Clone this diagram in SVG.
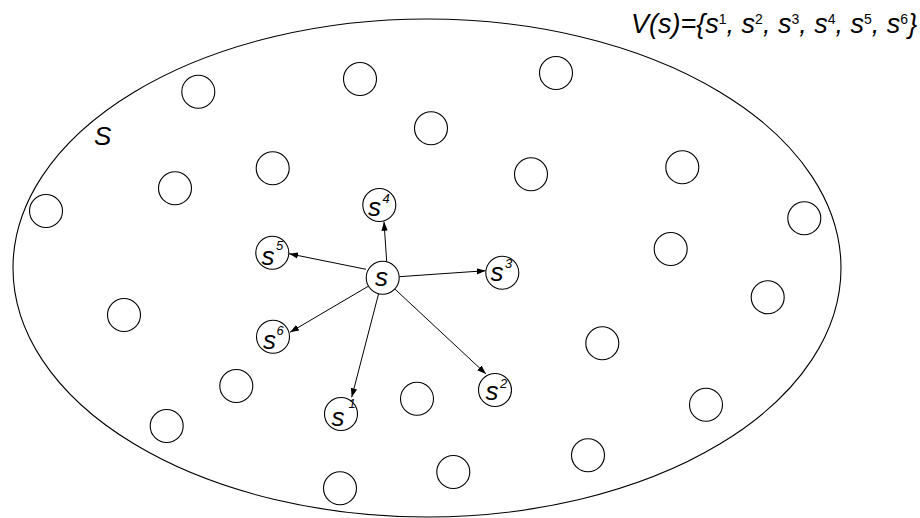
<svg xmlns="http://www.w3.org/2000/svg" width="920" height="518" viewBox="0 0 920 518">
  <style>
    .set { fill: none; stroke: #000; stroke-width: 1.1; }
    .node { fill: #fff; stroke: #000; stroke-width: 1.1; }
    .edge { fill: none; stroke: #000; stroke-width: 1; marker-end: url(#arrow); }
    .lbl { font-family: "Liberation Sans", Arial, sans-serif; font-style: italic; fill: #000; }
    .s { font-size: 26px; }
    .sup { font-size: 13px; }
    .title { font-size: 27px; }
    .title .sup { font-size: 14px; font-style: normal; }
  </style>
  <defs>
    <marker id="arrow" markerUnits="userSpaceOnUse" markerWidth="10" markerHeight="8" refX="9" refY="4" orient="auto">
      <path d="M0,0.8 L9,4 L0,7.2 z" fill="#000"/>
    </marker>
  </defs>

  <rect width="920" height="518" fill="#fff"/>

  <!-- the set S -->
  <g id="set-S">
    <ellipse class="set" cx="427" cy="268" rx="414" ry="249"/>
    <text class="lbl s" x="94" y="145">S</text>
  </g>

  <!-- neighbourhood definition -->
  <g id="definition">
    <text class="lbl title" x="631" y="32.5">V(s)={s<tspan class="sup" dy="-9">1</tspan><tspan dy="9">, s</tspan><tspan class="sup" dy="-9">2</tspan><tspan dy="9">, s</tspan><tspan class="sup" dy="-9">3</tspan><tspan dy="9">, s</tspan><tspan class="sup" dy="-9">4</tspan><tspan dy="9">, s</tspan><tspan class="sup" dy="-9">5</tspan><tspan dy="9">, s</tspan><tspan class="sup" dy="-9">6</tspan><tspan dy="9">}</tspan></text>
  </g>

  <!-- unlabeled states -->
  <g id="states">
    <circle class="node" cx="198.3" cy="91.7" r="16.5"/>
    <circle class="node" cx="360" cy="79" r="16.5"/>
    <circle class="node" cx="556" cy="73" r="16.5"/>
    <circle class="node" cx="431" cy="128.3" r="16.5"/>
    <circle class="node" cx="272.7" cy="168.3" r="16.5"/>
    <circle class="node" cx="175" cy="188.3" r="16.5"/>
    <circle class="node" cx="46" cy="211" r="16.5"/>
    <circle class="node" cx="531" cy="174.3" r="16.5"/>
    <circle class="node" cx="682.3" cy="167.3" r="16.5"/>
    <circle class="node" cx="804.3" cy="218.3" r="16.5"/>
    <circle class="node" cx="670.7" cy="249" r="16.5"/>
    <circle class="node" cx="767.7" cy="297.3" r="16.5"/>
    <circle class="node" cx="124" cy="315" r="16.5"/>
    <circle class="node" cx="602.3" cy="343.3" r="16.5"/>
    <circle class="node" cx="236.3" cy="386" r="16.5"/>
    <circle class="node" cx="417" cy="398.7" r="16.5"/>
    <circle class="node" cx="706" cy="404.7" r="16.5"/>
    <circle class="node" cx="166.7" cy="426" r="16.5"/>
    <circle class="node" cx="588" cy="455.3" r="16.5"/>
    <circle class="node" cx="453.3" cy="472" r="16.5"/>
    <circle class="node" cx="340" cy="488.3" r="16.5"/>
  </g>

  <!-- edges from s to its neighbours -->
  <g id="edges">
    <line class="edge" x1="386.7" y1="261.7" x2="384" y2="221.7"/>
    <line class="edge" x1="366" y1="269.3" x2="289" y2="253.7"/>
    <line class="edge" x1="399.3" y1="276.7" x2="485.7" y2="270.7"/>
    <line class="edge" x1="368.5" y1="286.1" x2="290" y2="332.3"/>
    <line class="edge" x1="378.6" y1="293.7" x2="351.7" y2="397.3"/>
    <line class="edge" x1="394.8" y1="289" x2="486" y2="374"/>
  </g>

  <g id="s">
    <circle class="node" cx="382.7" cy="277.7" r="16.5"/>
    <text class="lbl s" x="375" y="285.5">s</text>
  </g>
  <g id="s1">
    <circle class="node" cx="341" cy="414" r="16.5"/>
    <text class="lbl s" x="331.5" y="425.5">s</text>
    <text class="lbl sup" x="348.5" y="408">1</text>
  </g>
  <g id="s2">
    <circle class="node" cx="495" cy="390" r="16.5"/>
    <text class="lbl s" x="485.5" y="399.5">s</text>
    <text class="lbl sup" x="500" y="388">2</text>
  </g>
  <g id="s3">
    <circle class="node" cx="502.3" cy="272.7" r="16.5"/>
    <text class="lbl s" x="490.5" y="281.2">s</text>
    <text class="lbl sup" x="505" y="268.3">3</text>
  </g>
  <g id="s4">
    <circle class="node" cx="379.3" cy="205" r="16.5"/>
    <text class="lbl s" x="368" y="215.5">s</text>
    <text class="lbl sup" x="382.5" y="202.7">4</text>
  </g>
  <g id="s5">
    <circle class="node" cx="272.3" cy="252.7" r="16.5"/>
    <text class="lbl s" x="261.5" y="264.5">s</text>
    <text class="lbl sup" x="276" y="250">5</text>
  </g>
  <g id="s6">
    <circle class="node" cx="273" cy="336.7" r="16.5"/>
    <text class="lbl s" x="263" y="348.8">s</text>
    <text class="lbl sup" x="276.5" y="335">6</text>
  </g>
</svg>
